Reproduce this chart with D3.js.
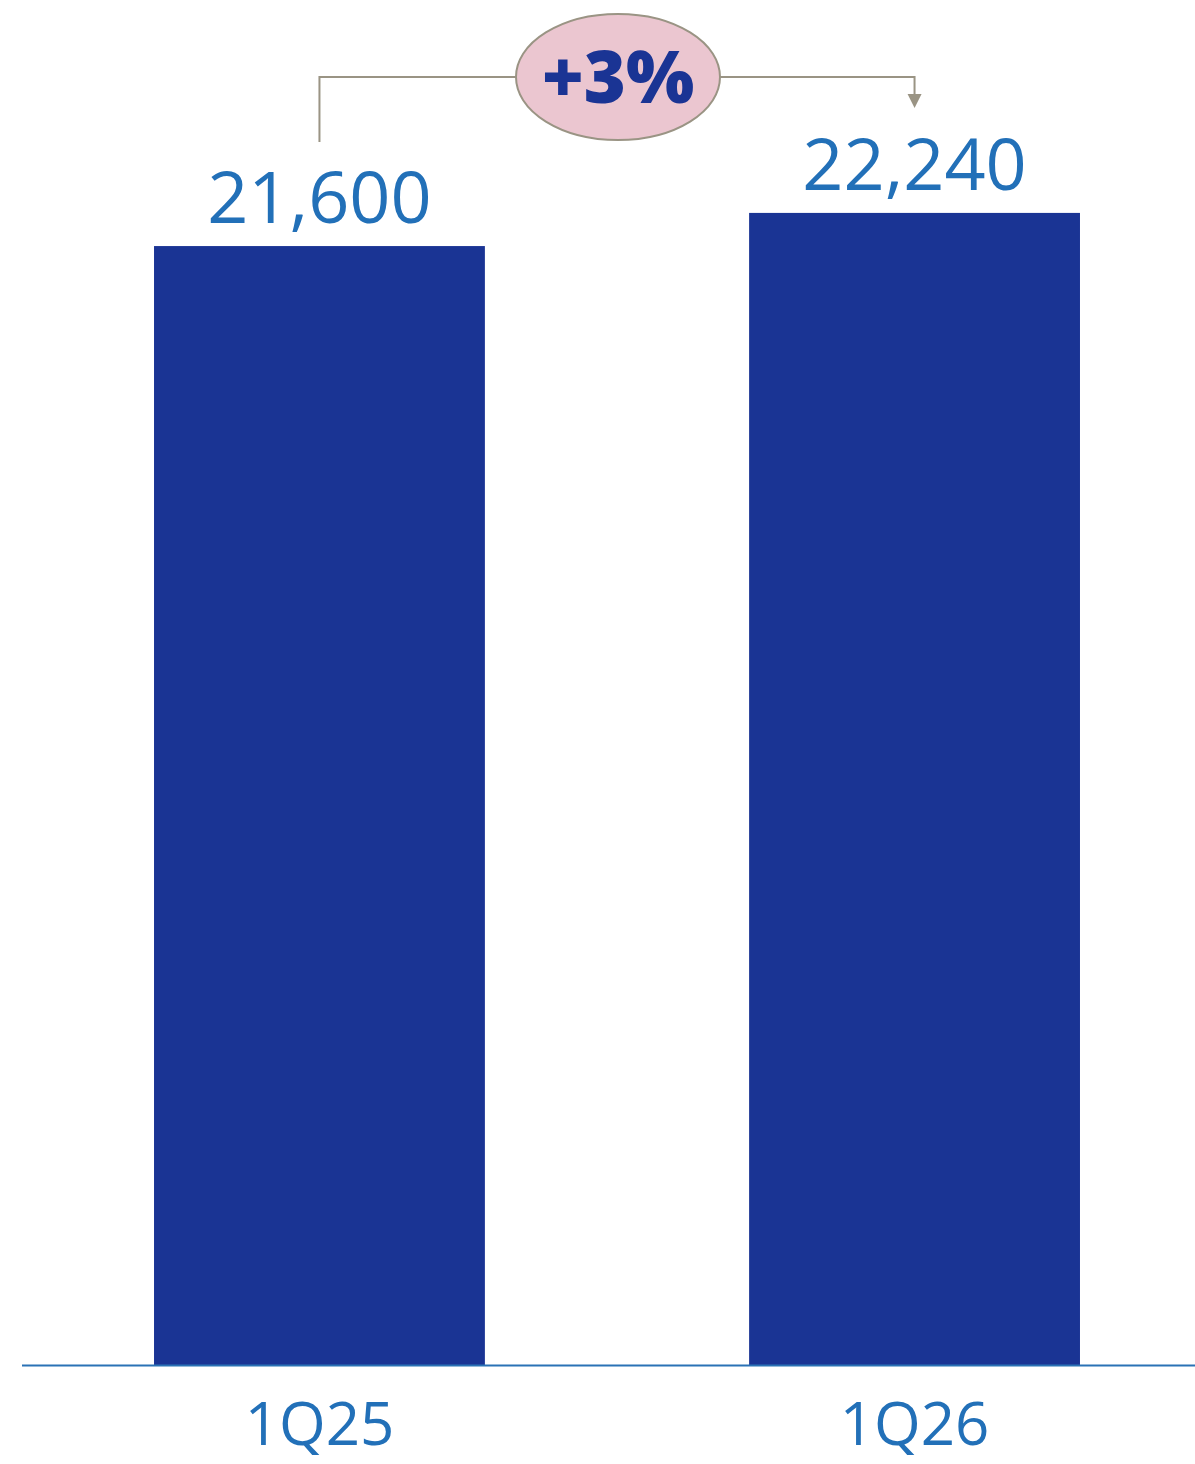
<!DOCTYPE html>
<html>
<head>
<meta charset="utf-8">
<script src="https://cdn.jsdelivr.net/npm/d3@7"></script>
<style>
  html, body { margin: 0; padding: 0; background: #ffffff; }
  svg { display: block; }
</style>
</head>
<body>
<script>
const categories = ["1Q25", "1Q26"];
const values = [21600, 22240];
const valueLabels = ["21,600", "22,240"];
const changeLabel = "+3%";

const W = 1195, H = 1464;
const barColor = "#1a3494";
const textColor = "#2270b8";
const axisColor = "#2a72b5";
const bracketColor = "#9a9484";

const svg = d3.select("body").append("svg")
  .attr("width", W).attr("height", H);

const x = d3.scaleBand()
  .domain(categories)
  .range([60, 1174])
  .paddingInner(0.444)
  .paddingOuter(0.158);

const y = d3.scaleLinear()
  .domain([0, 26350])
  .range([1365, 0]);

// bars
svg.selectAll("rect.bar")
  .data(categories)
  .enter().append("rect")
  .attr("class", "bar")
  .attr("x", d => x(d))
  .attr("width", x.bandwidth())
  .attr("y", (d, i) => y(values[i]))
  .attr("height", (d, i) => y(0) - y(values[i]))
  .attr("fill", barColor);

// baseline axis
const axis = svg.append("g")
  .attr("transform", `translate(0,${y(0)})`)
  .call(d3.axisBottom(x).tickSize(0).tickPadding(0));
axis.select(".domain").remove();
axis.selectAll(".tick text").remove();
svg.append("line")
  .attr("x1", 22).attr("x2", W)
  .attr("y1", y(0) + 0.5).attr("y2", y(0) + 0.5)
  .attr("stroke", axisColor).attr("stroke-width", 2);

// category labels
svg.selectAll("text.cat")
  .data(categories)
  .enter().append("text")
  .attr("class", "cat")
  .attr("x", d => x(d) + x.bandwidth() / 2)
  .attr("y", y(0) + 80)
  .attr("text-anchor", "middle")
  .attr("font-family", "'Open Sans', sans-serif")
  .attr("font-size", 60)
  .attr("fill", textColor)
  .text(d => d);

// value labels
svg.selectAll("text.val")
  .data(categories)
  .enter().append("text")
  .attr("class", "val")
  .attr("x", d => x(d) + x.bandwidth() / 2)
  .attr("y", (d, i) => y(values[i]) - 23)
  .attr("text-anchor", "middle")
  .attr("font-family", "'Open Sans', sans-serif")
  .attr("font-size", 72)
  .attr("fill", textColor)
  .text((d, i) => valueLabels[i]);

// bracket
const cx0 = x(categories[0]) + x.bandwidth() / 2;
const cx1 = x(categories[1]) + x.bandwidth() / 2;
const topY = 77;
const ellCx = (cx0 + cx1) / 2 + 1;
svg.append("path")
  .attr("d", `M${cx0},142 V${topY} H${cx1} V96`)
  .attr("fill", "none")
  .attr("stroke", bracketColor)
  .attr("stroke-width", 2);
svg.append("path")
  .attr("d", `M${cx1 - 7},94 L${cx1 + 7},94 L${cx1},108 Z`)
  .attr("fill", bracketColor);

svg.append("ellipse")
  .attr("cx", ellCx).attr("cy", topY)
  .attr("rx", 102).attr("ry", 63)
  .attr("fill", "#ebc6d0")
  .attr("stroke", bracketColor)
  .attr("stroke-width", 2);

svg.append("text")
  .attr("x", ellCx).attr("y", 103)
  .attr("text-anchor", "middle")
  .attr("font-family", "'Open Sans', sans-serif")
  .attr("font-weight", 800)
  .attr("font-size", 72)
  .attr("fill", barColor)
  .text(changeLabel);
</script>
</body>
</html>
